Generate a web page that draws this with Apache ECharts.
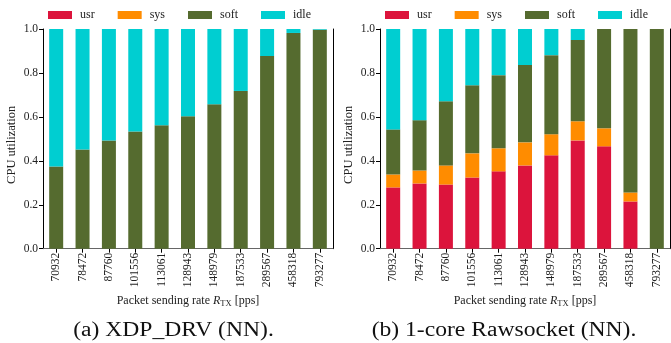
<!DOCTYPE html>
<html>
<head>
<meta charset="utf-8">
<script src="https://cdn.jsdelivr.net/npm/echarts@6/dist/echarts.min.js"></script>
<style>html,body{margin:0;padding:0;background:#fff}#c{width:671px;height:343px}</style>
</head>
<body>
<div id="c"></div>
<script>
var categories = ['70932','78472','87760','101556','113061','128943','148979','187533','289567','458318','793277'];
var yTicks = [0, 0.2, 0.4, 0.6, 0.8, 1.0];
// (a) XDP_DRV (NN)
var a_usr  = [0,0,0,0,0,0,0,0,0,0,0];
var a_sys  = [0,0,0,0,0,0,0,0,0,0,0];
var a_soft = [0.374,0.452,0.493,0.534,0.562,0.603,0.658,0.718,0.877,0.982,0.997];
var a_idle = [0.626,0.548,0.507,0.466,0.438,0.397,0.342,0.282,0.123,0.018,0.003];
// (b) 1-core Rawsocket (NN)
var b_usr  = [0.279,0.297,0.292,0.324,0.352,0.379,0.425,0.493,0.466,0.215,0];
var b_sys  = [0.059,0.059,0.087,0.110,0.105,0.105,0.096,0.087,0.082,0.041,0];
var b_soft = [0.205,0.229,0.292,0.310,0.333,0.352,0.360,0.370,0.452,0.744,1.0];
var b_idle = [0.457,0.415,0.329,0.256,0.210,0.164,0.119,0.050,0,0,0];
var seriesNames = ['usr','sys','soft','idle'];
var colors = ['#DC143C','#FF8C00','#556B2F','#00CED1'];
var captions = ['(a) XDP_DRV (NN).', '(b) 1-core Rawsocket (NN).'];

var FONT = 'Liberation Serif';
var chart = echarts.init(document.getElementById('c'));

function xAxisFor(g){
  return {
    type:'category', gridIndex:g, data:categories, boundaryGap:true,
    axisLine:{show:true, lineStyle:{color:'#000', width:1}},
    axisTick:{show:true, alignWithLabel:true, length:4, lineStyle:{color:'#000'}},
    axisLabel:{rotate:90, fontSize:11.5, fontFamily:FONT, color:'#222', margin:4},
    name:'Packet sending rate {i|R}{s|TX} [pps]', nameLocation:'middle', nameGap:43,
    nameTextStyle:{fontSize:12, fontFamily:FONT, color:'#222',
      rich:{i:{fontStyle:'italic', fontSize:12, fontFamily:FONT, color:'#222'},
            s:{fontSize:8.5, fontFamily:FONT, color:'#222', padding:[5,0,0,0]}}}
  };
}
function xTopFor(g){
  return {type:'category', gridIndex:g, position:'top', data:categories,
    axisLine:{show:true, lineStyle:{color:'#666', width:1}}, axisTick:{show:false}, axisLabel:{show:false}};
}
function yAxisFor(g){
  return {
    type:'value', gridIndex:g, min:0, max:1, interval:0.2,
    axisLine:{show:true, lineStyle:{color:'#000', width:1}},
    axisTick:{show:true, length:4, lineStyle:{color:'#000'}},
    splitLine:{show:false},
    axisLabel:{fontSize:11.5, fontFamily:FONT, color:'#222', margin:5, formatter:function(v){return v.toFixed(1);}},
    name:'CPU utilization', nameLocation:'middle', nameGap:25,
    nameTextStyle:{fontSize:12.5, fontFamily:FONT, color:'#222', padding:[0,12,0,0]}
  };
}
function yRightFor(g){
  return {type:'value', gridIndex:g, position:'right', min:0, max:1,
    axisLine:{show:true, lineStyle:{color:'#000', width:1}}, axisTick:{show:false}, axisLabel:{show:false}, splitLine:{show:false}};
}
function barSeries(g, arrs){
  return arrs.map(function(d,i){
    return {name:seriesNames[i], type:'bar', stack:'s'+g, xAxisIndex:g*2, yAxisIndex:g*2,
      data:d, barWidth:14, itemStyle:{color:colors[i]}, emphasis:{disabled:true}, animation:false};
  });
}
function legendFor(left){
  return {left:left, top:9, padding:0, icon:'rect', itemWidth:24, itemHeight:8, itemGap:23,
    data:seriesNames, selectedMode:false,
    textStyle:{fontSize:12, fontFamily:FONT, color:'#222', padding:[0,0,0,3]}};
}

chart.setOption({
  animation:false,
  color:colors,
  legend:[legendFor(48), legendFor(385)],
  grid:[{left:43, top:29, width:290, height:219.7},{left:380, top:29, width:290, height:219.7}],
  xAxis:[xAxisFor(0), xTopFor(0), xAxisFor(1), xTopFor(1)],
  yAxis:[yAxisFor(0), yRightFor(0), yAxisFor(1), yRightFor(1)],
  series: barSeries(0,[a_usr,a_sys,a_soft,a_idle]).concat(barSeries(1,[b_usr,b_sys,b_soft,b_idle])),
  graphic:[
    {type:'text', x:173.5, y:331, scaleX:1.18, style:{text:captions[0], x:0, y:0, textAlign:'center', textVerticalAlign:'middle', fontSize:20, fontFamily:FONT, fill:'#111'}},
    {type:'text', x:504, y:331, scaleX:1.18, style:{text:captions[1], x:0, y:0, textAlign:'center', textVerticalAlign:'middle', fontSize:20, fontFamily:FONT, fill:'#111'}}
  ]
});
</script>
</body>
</html>
